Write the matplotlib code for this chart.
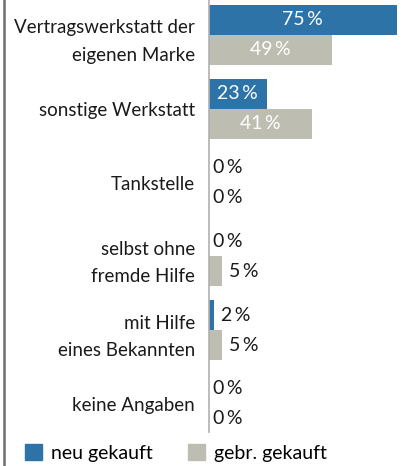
import numpy as np
import matplotlib
matplotlib.use("Agg")
import matplotlib.pyplot as plt
from matplotlib.lines import Line2D
from matplotlib.patches import Patch

plt.rcParams['font.family'] = ['Lato', 'DejaVu Sans']

categories = ["Vertragswerkstatt der\neigenen Marke", "sonstige Werkstatt", "Tankstelle",
              "selbst ohne\nfremde Hilfe", "mit Hilfe\neines Bekannten", "keine Angaben"]
neu = [75, 23, 0, 0, 2, 0]
gebr = [49, 41, 0, 5, 5, 0]
series_names = ["neu gekauft", "gebr. gekauft"]

blue = "#2d73a7"
grey = "#bdbdb1"

W, H = 407, 466
fig = plt.figure(figsize=(W / 100, H / 100), dpi=100)
ax = fig.add_axes([209 / W, 34 / H, 198 / W, 432 / H])

y = np.arange(len(categories))
h = 0.406
ax.barh(y - h / 2, neu, height=h, color=blue)
ax.barh(y + h / 2, gebr, height=h, color=grey)

def label(vals, offs):
    for yi, v in zip(y, vals):
        txt = f"{v}\u2009%"
        if v >= 15:
            ax.text(v / 2, yi + offs, txt, ha="center", va="center", color="white", fontsize=14)
        else:
            pad = 1.5 if v == 0 else 2.8
            ax.text(v + pad, yi + offs, txt, ha="left", va="center", color="#1a1a1a", fontsize=14)

label(neu, -h / 2)
label(gebr, h / 2)

ax.set_xlim(0, 79.1)
ax.set_ylim(5.38, -0.474)
ax.set_yticks(y)
ax.set_yticklabels(categories, fontsize=13.5, linespacing=1.75, color="#1a1a1a")
ax.tick_params(axis="y", length=0, pad=10)
ax.set_xticks([])
for s in ["top", "right", "bottom"]:
    ax.spines[s].set_visible(False)
ax.spines["left"].set_color("#b0b0b0")
ax.spines["left"].set_linewidth(1.2)

fig.add_artist(Line2D([3.5 / W, 3.5 / W], [0, 1], color="#6e6e6e", lw=1.8))

handles = [Patch(color=blue), Patch(color=grey)]
fig.legend(handles, series_names, loc="center left", bbox_to_anchor=(25 / W, 1 - 453 / H),
           ncol=2, frameon=False, fontsize=14, handlelength=0.85, handleheight=0.85,
           handletextpad=0.5, columnspacing=1.8, borderaxespad=0, borderpad=0)

fig.savefig("out.png", dpi=100)
